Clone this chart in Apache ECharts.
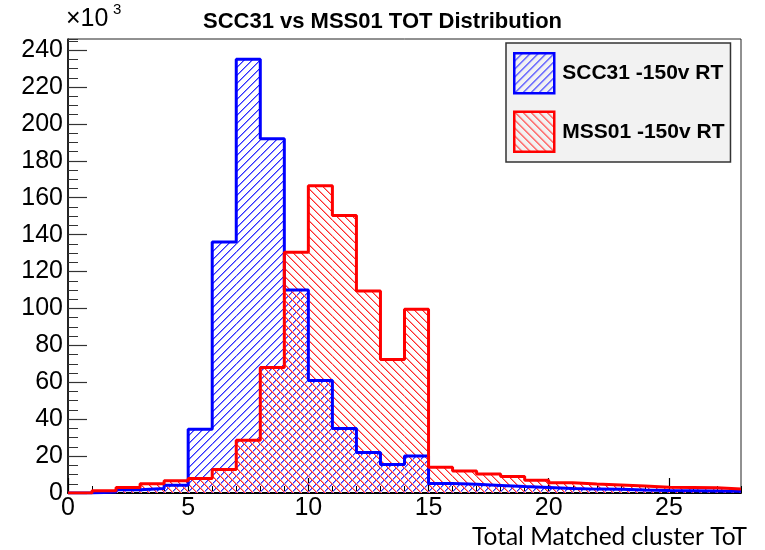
<!DOCTYPE html>
<html>
<head>
<meta charset="utf-8">
<script src="https://cdn.jsdelivr.net/npm/echarts@6/dist/echarts.min.js"></script>
<style>html,body{margin:0;padding:0;background:#fff}#c{width:765px;height:550px}</style>
</head>
<body>
<div id="c"></div>
<script>
// Bin lower edges (width 1) of Total Matched cluster ToT
const binEdges = [0,1,2,3,4,5,6,7,8,9,10,11,12,13,14,15,16,17,18,19,20,21,22,23,24,25,26,27,28];
// Counts per bin
const scc31 = [0, 500, 1700, 2400, 4200, 34500, 136000, 235000, 192000, 110000, 61000, 35000, 22000, 15500, 20000,
  5200, 4700, 4100, 3500, 3000, 2500, 2100, 2000, 1600, 1300, 1200, 1100, 1000];
const mss01 = [0, 1200, 3000, 5000, 6600, 7800, 12800, 28600, 68000, 130500, 166500, 150300, 109500, 72400, 99500,
  13900, 11900, 10300, 9000, 6900, 5500, 4900, 4400, 3800, 3100, 3000, 2800, 2200];
const seriesNames = ['SCC31 -150v RT', 'MSS01 -150v RT'];
const yTickLabels = [0,20,40,60,80,100,120,140,160,180,200,220,240];
const xTickLabels = [0,5,10,15,20,25];

// crisp pixel hatch tile, ~1.5 px wide strokes
function hatch(core, soft, dir) {
  const s = 8;
  const c = document.createElement('canvas');
  c.width = s; c.height = s;
  const g = c.getContext('2d');
  for (let i = 0; i < s; i++) {
    const y = dir === '/' ? s - 1 - i : i;
    g.fillStyle = core; g.fillRect(i, y, 1, 1);
    g.fillStyle = soft; g.fillRect((i + 1) % s, y, 1, 1);
  }
  return { image: c, repeat: 'repeat' };
}
const BLUE_CORE = '#3030ff', BLUE_SOFT = '#8c8cff';
const RED_CORE = '#ff2a2a', RED_SOFT = '#ff9a9a';

function stepData(vals) {
  const d = vals.map((v, i) => [binEdges[i], v]);
  d.push([binEdges[vals.length], vals[vals.length - 1]]);
  return d;
}
function binData(vals) {
  return vals.map((v, i) => [binEdges[i], binEdges[i + 1], v]);
}
function hatchSeries(name, vals, pattern, z) {
  return {
    name: name, type: 'custom', xAxisIndex: 0, yAxisIndex: 0, z: z, clip: true,
    data: binData(vals),
    encode: { x: [0, 1], y: 2 },
    renderItem: function (params, api) {
      const p0 = api.coord([api.value(0), api.value(2)]);
      const p1 = api.coord([api.value(1), 0]);
      return {
        type: 'rect',
        shape: { x: p0[0], y: p0[1], width: p1[0] - p0[0], height: p1[1] - p0[1] },
        style: { fill: pattern, stroke: null }
      };
    }
  };
}

const font = "'Liberation Sans', Arial, Helvetica, sans-serif";
const chart = echarts.init(document.getElementById('c'), null, { renderer: 'canvas' });
chart.setOption({
  animation: false,
  backgroundColor: '#fff',
  title: {
    text: 'SCC31 vs MSS01 TOT Distribution',
    left: 'center', top: 6,
    textStyle: { fontFamily: font, fontSize: 22, fontWeight: 'bold', color: '#000' }
  },
  grid: { left: 68, right: 24, top: 39, bottom: 57, show: true, borderColor: '#222', borderWidth: 1, backgroundColor: 'transparent' },
  legend: {
    orient: 'vertical', left: 506, top: 43,
    padding: [9, 6, 9, 7],
    itemWidth: 40, itemHeight: 40, itemGap: 16,
    backgroundColor: '#f2f2f2', borderColor: '#333', borderWidth: 1.5,
    icon: 'rect',
    textStyle: { fontFamily: font, fontSize: 21, fontWeight: 'bold', color: '#000', padding: [0,0,0,3] },
    data: [
      { name: seriesNames[0], itemStyle: { color: hatch(BLUE_CORE, BLUE_SOFT, '/'), borderColor: '#0000ff', borderWidth: 2.5 } },
      { name: seriesNames[1], itemStyle: { color: hatch(RED_CORE, RED_SOFT, '\\'), borderColor: '#ff0000', borderWidth: 2.5 } }
    ]
  },
  xAxis: [{
    type: 'value', min: 0, max: 28, interval: 5,
    axisLine: { show: true, lineStyle: { color: '#000', width: 2 } },
    axisTick: { show: true, inside: true, length: 15, lineStyle: { color: '#000', width: 1.2 } },
    splitLine: { show: false },
    axisLabel: {
      fontFamily: font, fontSize: 25, color: '#000', margin: 3, showMaxLabel: false,
      formatter: v => (xTickLabels.indexOf(v) >= 0 ? String(v) : '')
    }
  }, {
    type: 'value', min: 0, max: 28, interval: 1, position: 'bottom',
    axisLine: { show: false },
    axisTick: { show: true, inside: true, length: 7, lineStyle: { color: '#000', width: 1 } },
    splitLine: { show: false }, axisLabel: { show: false }
  }],
  yAxis: [{
    type: 'value', min: 0, max: 246000, interval: 20000,
    axisLine: { show: true, lineStyle: { color: '#000', width: 1.5 } },
    axisTick: { show: true, inside: true, length: 19, lineStyle: { color: '#333', width: 1.2 } },
    splitLine: { show: false },
    axisLabel: {
      fontFamily: font, fontSize: 25, color: '#000', margin: 5, showMaxLabel: false,
      formatter: v => { const k = Math.round(v / 1000); return yTickLabels.indexOf(k) >= 0 ? String(k) : ''; }
    }
  }, {
    type: 'value', min: 0, max: 246000, interval: 5000, position: 'left',
    axisLine: { show: false },
    axisTick: { show: true, inside: true, length: 10, lineStyle: { color: '#333', width: 1 } },
    splitLine: { show: false }, axisLabel: { show: false }
  }],
  series: [
    hatchSeries(seriesNames[0], scc31, hatch(BLUE_CORE, BLUE_SOFT, '/'), 2),
    hatchSeries(seriesNames[1], mss01, hatch(RED_CORE, RED_SOFT, '\\'), 2),
    {
      name: seriesNames[0], type: 'line', step: 'end', xAxisIndex: 0, yAxisIndex: 0,
      data: stepData(scc31), symbol: 'none', z: 3,
      lineStyle: { color: '#0000ff', width: 3 },
      itemStyle: { color: '#0000ff' }
    }, {
      name: seriesNames[1], type: 'line', step: 'end', xAxisIndex: 0, yAxisIndex: 0,
      data: stepData(mss01), symbol: 'none', z: 4,
      lineStyle: { color: '#ff0000', width: 3 },
      itemStyle: { color: '#ff0000' }
    }
  ],
  graphic: [
    { type: 'text', left: 66, top: 7, style: { text: '×10', font: "25px 'Liberation Sans', Arial, sans-serif", fill: '#000' } },
    { type: 'text', left: 113, top: 2, style: { text: '3', font: "15px 'Liberation Sans', Arial, sans-serif", fill: '#000' } },
    { type: 'text', right: 18, top: 525, style: { text: 'Total Matched cluster ToT', font: "24.5px Lato, Carlito, sans-serif", fill: '#000' } }
  ]
});
</script>
</body>
</html>
